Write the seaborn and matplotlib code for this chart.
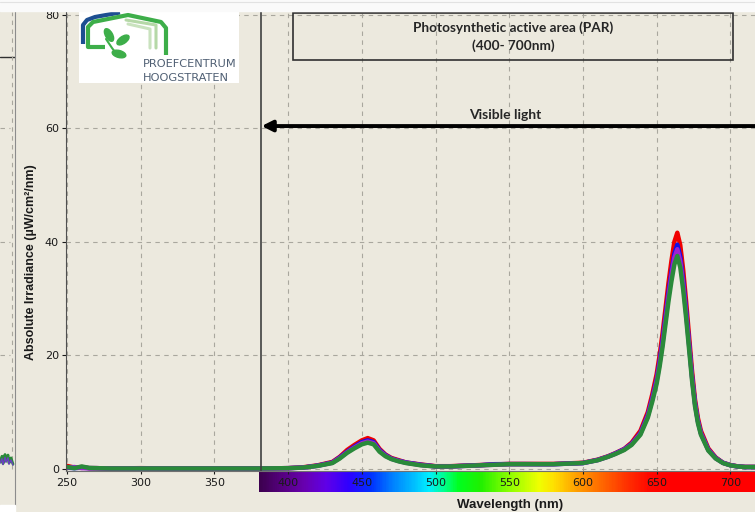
import numpy as np
import pandas as pd
import seaborn as sns

from matplotlib import pyplot as plt
from matplotlib.colors import LinearSegmentedColormap
from matplotlib.lines import Line2D
from matplotlib.patches import Rectangle, Ellipse

# spectra (nm, uW/cm2/nm)
wavelength = [250, 255, 260, 265, 270, 280, 300, 320, 350, 380,
              400, 410, 420, 430, 435, 440, 445, 450, 454, 458,
              462, 466, 470, 475, 480, 490, 500, 510, 520, 530,
              540, 550, 560, 570,
              580, 590, 600, 610, 617, 622, 628, 633, 639, 644,
              647, 650, 652, 654, 656, 658, 660, 662, 664, 666,
              668, 670, 672, 674, 676, 678, 680, 685, 690, 695,
              700, 705, 710, 717]
red = [0.5, 0.2, 0.3, 0.1, 0.1, 0.05, 0.1, 0.05, 0.05, 0.05,
       0.1, 0.25, 0.6, 1.2, 2.1, 3.3, 4.2, 5.0, 5.4, 5.0,
       3.5, 2.5, 1.9, 1.5, 1.1, 0.75, 0.45, 0.45, 0.55, 0.65,
       0.75, 0.85, 0.85, 0.85,
       0.85, 0.95, 1.05, 1.6, 2.2, 2.75, 3.5, 4.6, 6.7, 10.0,
       13.1, 16.7, 20.0, 23.9, 28.3, 32.7, 36.6, 40.0, 41.6, 39.4,
       35.0, 29.4, 23.3, 17.2, 12.2, 8.9, 6.7, 3.6, 2.0, 1.05,
       0.65, 0.42, 0.32, 0.32]
blue = [0.2, 0.1, 0.2, 0.1, 0.1, 0.05, 0.05, 0.05, 0.05, 0.05,
        0.1, 0.2, 0.55, 1.1, 2.0, 3.0, 3.9, 4.7, 5.0, 4.7,
        3.3, 2.4, 1.8, 1.4, 1.1, 0.7, 0.42, 0.42, 0.52, 0.62,
        0.8, 0.82, 0.82, 0.8,
        0.8, 0.9, 1.0, 1.55, 2.15, 2.7, 3.45, 4.4, 6.3, 9.5,
        12.4, 15.8, 19.0, 22.6, 26.9, 31.1, 34.7, 37.9, 39.5, 37.4,
        33.2, 27.9, 22.1, 16.3, 11.6, 8.4, 6.3, 3.4, 1.9, 1.05,
        0.62, 0.4, 0.3, 0.3]
purple = [0.2, 0.3, 0.1, 0.1, 0.1, 0.05, 0.05, 0.05, 0.05, 0.05,
          0.1, 0.2, 0.52, 1.05, 1.9, 2.9, 3.75, 4.5, 4.8, 4.5,
          3.15, 2.3, 1.75, 1.35, 1.05, 0.65, 0.4, 0.4, 0.5, 0.6,
          0.7, 0.8, 0.8, 0.8,
          0.8, 0.9, 1.0, 1.52, 2.12, 2.65, 3.4, 4.3, 6.2, 9.3,
          12.2, 15.5, 18.6, 22.2, 26.3, 30.4, 34.1, 37.2, 38.7, 36.6,
          32.5, 27.3, 21.7, 16.0, 11.4, 8.3, 6.2, 3.3, 1.85, 1.03,
          0.62, 0.4, 0.3, 0.3]
green = [0.3, 0.1, 0.4, 0.15, 0.1, 0.05, 0.05, 0.05, 0.05, 0.05,
         0.1, 0.2, 0.5, 1.0, 1.8, 2.8, 3.6, 4.3, 4.6, 4.3,
         3.0, 2.2, 1.7, 1.3, 1.0, 0.6, 0.4, 0.4, 0.5, 0.6,
         0.7, 0.8, 0.8, 0.8,
         0.8, 0.9, 1.0, 1.5, 2.1, 2.6, 3.3, 4.2, 6.0, 9.0,
         11.8, 15.0, 18.0, 21.5, 25.5, 29.5, 33.0, 36.0, 37.5, 35.5,
         31.5, 26.5, 21.0, 15.5, 11.0, 8.0, 6.0, 3.2, 1.8, 1.0,
         0.6, 0.4, 0.3, 0.3]

series = {"red": red, "blue": blue, "purple": purple, "green": green}
colors = {"red": "#F00000", "blue": "#1010E8", "purple": "#A020D0", "green": "#2A8A3A"}

x_ticks = [250, 300, 350, 400, 450, 500, 550, 600, 650, 700]
y_ticks = [0, 20, 40, 60, 80]

# colour strip under the axis (visible spectrum)
spectrum_nm = [380, 395, 410, 425, 440, 455, 470, 485, 495, 505, 515, 530, 550, 570, 580,
               595, 610, 630, 645, 660, 717]
spectrum_col = ["#3D0050", "#560080", "#6800B0", "#6000E8", "#3000FF", "#0030FF", "#0080FF",
                "#00C0FF", "#00F0FF", "#00FF90", "#00FF20", "#20F000", "#90FF00", "#F0FF00",
                "#FFE000", "#FFA000", "#FF7000", "#FF3000", "#FF0800", "#FF0000", "#FF0000"]

# bits of the neighbouring (cropped) panel at the far left
prev_x = [0, 2, 3, 5, 6, 8, 9, 11, 13]
prev_y = [1.2, 2.2, 0.9, 2.5, 1.4, 2.4, 1.0, 1.9, 0.8]

BG = "#ECE9DE"
W, H = 755, 512
XLIM = (249.3, 716.7)
YLIM = (-0.4, 80.5)


def fx(x):
    return x / W


def fy(y):
    return 1 - y / H


sns.set_style("ticks", {"axes.facecolor": BG, "figure.facecolor": BG})
plt.rcParams['font.family'] = ['DejaVu Sans']

fig = plt.figure(figsize=(7.55, 5.12), dpi=100, facecolor=BG)

# main axes
ax = fig.add_axes([fx(66), fy(471), fx(755 - 66), (471 - 12) / H], zorder=2)
ax.set_facecolor("none")

df = pd.DataFrame([(w, v, name) for name, vals in series.items()
                   for w, v in zip(wavelength, vals)],
                  columns=["wavelength", "irradiance", "sample"])
sns.lineplot(data=df, x="wavelength", y="irradiance", hue="sample",
             hue_order=list(series.keys()), palette=colors, lw=3.2,
             estimator=None, sort=False, legend=False, ax=ax)

ax.set_xlim(*XLIM)
ax.set_ylim(*YLIM)
ax.set_xticks(x_ticks)
ax.set_yticks(y_ticks)
ax.tick_params(axis="x", length=2, pad=3, labelsize=8, colors="#1A1A1A")
ax.tick_params(axis="y", length=3, pad=2, labelsize=8, colors="#1A1A1A")
ax.grid(True, ls=(0, (4, 4)), color="#A9A79E", lw=0.8)
for s in ["top", "right"]:
    ax.spines[s].set_visible(False)
ax.spines["left"].set_color("#505050")
ax.spines["bottom"].set_color("#707070")
ax.set_xlabel("")
ax.set_ylabel("Absolute Irradiance (µW/cm²/nm)", family="Liberation Sans",
              fontweight="bold", fontsize=9, color="#1A1A1A")
ax.yaxis.set_label_coords((37 - 66) / 689, (471 - 262) / 459)

ax.axvline(381.5, color="#404040", lw=1.2, zorder=3)
ax.annotate("", xy=(382, 60.4), xytext=(740, 60.4), annotation_clip=False,
            arrowprops=dict(arrowstyle="-|>", lw=2.8, color="black", mutation_scale=16,
                            shrinkA=0, shrinkB=0))
ax.text(547, 62.4, "Visible light", ha="center", va="center",
        family="Lato", fontweight="bold", fontsize=10)

# spectrum strip
cax = fig.add_axes([fx(66), fy(492), fx(689), 21 / H], zorder=1)
spec_cmap = LinearSegmentedColormap.from_list(
    "spec", [((w - 380) / (717 - 380), c) for w, c in zip(spectrum_nm, spectrum_col)])
cax.imshow(np.linspace(380, 717, 600)[None, :], extent=[380, 717, 0, 1], aspect="auto",
           cmap=spec_cmap, vmin=380, vmax=717)
cax.set_xlim(*XLIM)
cax.set_ylim(0, 1)
cax.axis("off")

fig.text(fx(510), fy(505), "Wavelength (nm)", ha="center", va="center",
         family="Liberation Sans", fontweight="bold", fontsize=9.5, color="#1A1A1A")

# PAR box
fig.add_artist(Rectangle((fx(293), fy(60)), fx(733 - 293), (60 - 13) / H, fill=False,
                         ec="#303030", lw=1.2, transform=fig.transFigure, zorder=5))
fig.text(fx(513), fy(28), "Photosynthetic active area (PAR)", ha="center", va="center",
         family="Lato", fontweight="bold", fontsize=9.8, zorder=6)
fig.text(fx(513), fy(46), "(400- 700nm)", ha="center", va="center",
         family="Lato", fontweight="bold", fontsize=9.8, zorder=6)

# logo (local pixel coordinates inside the white box)
lax = fig.add_axes([fx(79), fy(83), fx(160), 71 / H], zorder=4)
lax.set_xlim(0, 160)
lax.set_ylim(71, 0)
lax.set_facecolor("white")
lax.set_xticks([])
lax.set_yticks([])
for s in lax.spines.values():
    s.set_visible(False)
lax.plot([4, 4, 8, 16, 41], [32, 13, 8, 5, 0.5], color="#1D4F91", lw=3,
         solid_capstyle="butt", solid_joinstyle="round")
lax.plot([26, 9, 9, 14, 49, 82, 87, 87], [35, 35, 15, 10, 3, 10, 16, 43], color="#3DAE49",
         lw=3, solid_joinstyle="round", solid_capstyle="butt")
lax.plot([47, 77, 77], [8, 13, 36], color="#B5D8A7", lw=2.2)
lax.plot([49, 71, 71], [12, 17, 36], color="#C9E2BE", lw=2.2)
lax.plot([27, 33, 39], [27, 36, 44], color="#3DAE49", lw=1.5)
for cx, cy, w_, h_, ang in [(30, 23, 14, 7, 60), (44, 28, 14, 7, -35), (40, 42, 14, 7, 15)]:
    lax.add_patch(Ellipse((cx, cy), w_, h_, angle=ang, color="#3DAE49"))
lax.text(64, 52, "PROEFCENTRUM", fontsize=8.2, color="#4F5F73", va="center")
lax.text(64, 66, "HOOGSTRATEN", fontsize=8.2, color="#4F5F73", va="center")

# cropped neighbour panel on the far left (same value scale as main axes)
lp = fig.add_axes([0, fy(505), fx(15), (505 - 12) / H], zorder=1)
lp.set_facecolor(BG)
lp.set_xlim(0, 15)
lp.set_ylim(-6.4, 80.5)
lp.set_xticks([])
lp.set_yticks([])
for s in ["top", "left", "bottom"]:
    lp.spines[s].set_visible(False)
lp.spines["right"].set_color("#8C8C8C")
lp.plot([0, 15], [72.5, 72.5], color="#303030", lw=1)
lp.plot([12, 12], [0, 80.5], color="#A9A79E", lw=0.8, ls=(0, (4, 4)))
for yy in [60, 40, 20]:
    lp.plot([0, 10], [yy, yy], color="#A9A79E", lw=0.8, ls=(0, (4, 4)))
lp.plot(prev_x, prev_y, color="#2A8A3A", lw=2)
lp.plot(prev_x, [v * 0.8 for v in prev_y], color="#6A40C0", lw=1)

# white strips of the screenshot
fig.add_artist(Rectangle((0, fy(11)), 1, 11 / H, color="#FAFAFA",
                         transform=fig.transFigure, zorder=10))
fig.add_artist(Line2D([0, 1], [fy(2), fy(2)], color="#E2E2E2", lw=0.8,
                      transform=fig.transFigure, zorder=11))
fig.add_artist(Rectangle((0, 0), fx(15), 7 / H, color="white",
                         transform=fig.transFigure, zorder=10))

fig.savefig("out.png", dpi=100, facecolor=BG)
